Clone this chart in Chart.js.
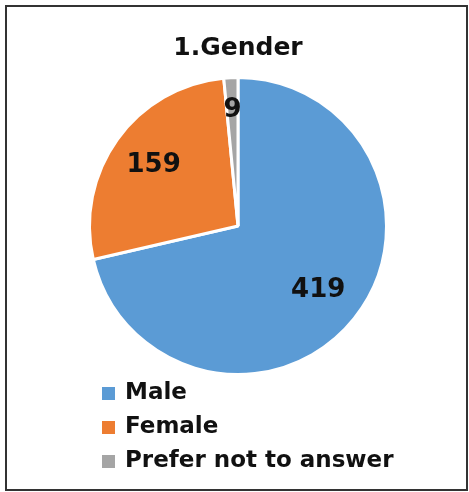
<!DOCTYPE html>
<html>
<head>
<meta charset="utf-8">
<script src="https://cdn.jsdelivr.net/npm/chart.js@4/dist/chart.umd.min.js"></script>
<style>
  html, body { margin: 0; padding: 0; background: #fff; }
  body { width: 469px; height: 492px; position: relative; overflow: hidden; font-family: "DejaVu Sans", sans-serif; }
  #frame { position: absolute; left: 5px; top: 5px; width: 463px; height: 486px; box-sizing: border-box; border: 2px solid #333; }
  #wrap { position: absolute; left: 0; top: 0; width: 469px; height: 380px; }
  #legend { position: absolute; left: 102px; top: 374px; }
  .item { height: 34px; line-height: 34px; font-weight: bold; font-size: 23px; color: #111; white-space: nowrap; }
  .box { display: inline-block; width: 13px; height: 13px; margin-right: 10px; vertical-align: -1px; }
</style>
</head>
<body>
<div id="frame"></div>
<div id="wrap"><canvas id="pie"></canvas></div>
<div id="legend"></div>
<script>
const labels = ["Male", "Female", "Prefer not to answer"];
const counts = [419, 159, 9];
const colors = ["#5B9BD5", "#ED7D31", "#A5A5A5"];
// how far out from the centre each value label sits (fraction of radius)
const labelRadius = [0.69, 0.70, 0.78];

const valueLabels = {
    id: "valueLabels",
    afterDatasetsDraw(chart) {
        const ctx = chart.ctx;
        const meta = chart.getDatasetMeta(0);
        ctx.save();
        ctx.font = "bold 26px 'DejaVu Sans', sans-serif";
        ctx.fillStyle = "#111";
        ctx.textAlign = "center";
        ctx.textBaseline = "middle";
        meta.data.forEach((arc, i) => {
            const p = arc.getProps(["x", "y", "startAngle", "endAngle", "outerRadius"], true);
            const mid = (p.startAngle + p.endAngle) / 2;
            const r = p.outerRadius * labelRadius[i];
            ctx.fillText(String(counts[i]), p.x + Math.cos(mid) * r, p.y + Math.sin(mid) * r);
        });
        ctx.restore();
    }
};

const ctx = document.getElementById("pie").getContext("2d");
new Chart(ctx, {
    type: "pie",
    data: {
        labels: labels,
        datasets: [{
            data: counts,
            backgroundColor: colors,
            borderColor: "#ffffff",
            borderWidth: 3
        }]
    },
    options: {
        responsive: true,
        maintainAspectRatio: false,
        animation: false,
        layout: { padding: { left: 88, right: 81, bottom: 4, top: 0 } },
        plugins: {
            legend: { display: false },
            tooltip: { enabled: false },
            title: {
                display: true,
                text: "1.Gender",
                color: "#111",
                font: { family: "'DejaVu Sans', sans-serif", size: 25, weight: "bold", lineHeight: 1.2 },
                padding: { top: 33, bottom: 13 }
            }
        }
    },
    plugins: [valueLabels]
});

// legend built from the same arrays
const legendEl = document.getElementById("legend");
labels.forEach((name, i) => {
    const row = document.createElement("div");
    row.className = "item";
    const box = document.createElement("span");
    box.className = "box";
    box.style.background = colors[i];
    row.appendChild(box);
    row.appendChild(document.createTextNode(name));
    legendEl.appendChild(row);
});
</script>
</body>
</html>
